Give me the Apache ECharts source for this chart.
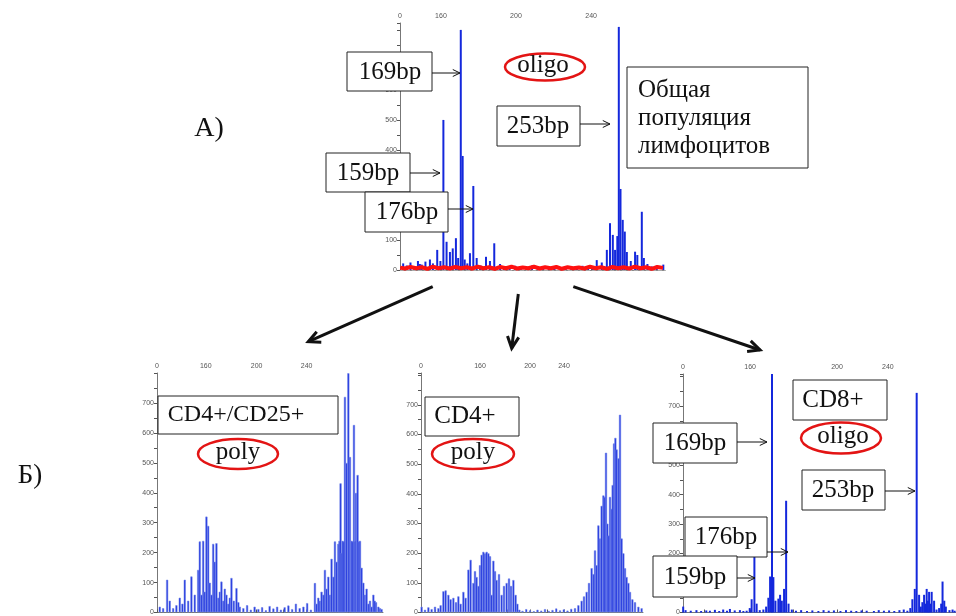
<!DOCTYPE html>
<html>
<head>
<meta charset="utf-8">
<script src="https://cdn.jsdelivr.net/npm/echarts@6/dist/echarts.min.js"></script>
<style>
  html, body { margin: 0; background: #fff; }
  #chart { width: 956px; height: 616px; }
</style>
</head>
<body>
<div id="chart"></div>
<script>
// tick texts on the top axes (the axes are not linear in the original)
const tickText = ['0', '160', '200', '240'];

// axis ranges, in bp
const rangeA = [136.4, 278.1], rangeB1 = [121, 301.6], rangeB2 = [112.8, 290.4], rangeB3 = [117.5, 275.8];
const yMax = [823, 800, 807, 809];

const labelPosA = [136.4, 158.3, 198.4, 238.6];
const tickPosA = [136.4, 145.3, 158.7, 178.6, 198.3, 218.2, 238.6, 259.4];
const labelPosB1 = [121, 160, 200.6, 240.6];
const tickPosB1 = [121, 136.6, 160, 180.6, 200.6, 221.9, 240.6, 273.9];
const labelPosB2 = [112.8, 160, 200, 227.2];
const tickPosB2 = [112.8, 124, 160, 181.4, 200, 213.4, 227.2, 262.4];
const labelPosB3 = [117.5, 156.4, 206.8, 236.3];
const tickPosB3 = [117.5, 129.6, 156.4, 168.4, 181.4, 206.8, 221.4, 256.3];

// А) общая популяция: [bp, intensity]
const peaksA = [[138.1,22],[140,15],[142,25],[144,12],[146,30],[147,20],[148,18],[150,28],[152.4,35],[154,22],
  [156.3,67],[158,30],[159.6,500],[161.3,94],[163.1,60],[164.6,72],[166.3,106],[167.5,40],[168.9,800],[169.9,380],
  [171,35],[172.4,22],[173.8,56],[175.6,280],[177.4,40],[179.5,15],[182.4,44],[184.5,30],[186.8,89],[189.9,20],
  [192,12],[195,8],[198,14],[201,6],[204,10],[207,15],[210,7],[213,11],[216,9],[219,13],[222,6],[225,12],
  [228,8],[231,10],[234,14],[237,9],[239.5,12],
  [241.6,33],[244.3,25],[247,67],[248.7,156],[250.2,117],[251.4,67],[252.6,113],[253.4,810],[254.3,270],
  [255.5,167],[256.6,128],[257.7,60],[259.8,30],[262.1,61],[263.3,50],[265.7,194],[266.8,40],[268.7,20],
  [271,12],[273.7,15],[277.2,18]];
const controlA = [[136.5,8],[139,5],[142,10],[145,6],[148,9],[151,4],[154,11],[157,6],[160,9],[163,5],
  [166,10],[169,6],[172,9],[175,5],[178,11],[181,6],[184,9],[187,4],[190,10],[193,6],[196,11],[199,5],
  [202,8],[205,6],[208,11],[211,5],[214,9],[217,6],[220,10],[223,4],[226,9],[229,6],[232,8],[235,5],
  [238,11],[241,6],[244,9],[247,4],[250,10],[253,6],[256,9],[259,5],[262,11],[265,6],[268,9],[271,4],
  [274,10],[277,7]];

// Б) CD4+/CD25+
const peaksB1 = [[123.2,20],[125.9,15],[129.1,110],[131.2,40],[133.9,15],[136.5,25],[139.2,50],[141.3,30],
  [143.2,110],[145.9,40],[148.5,121],[151.2,60],[153.9,143],[155.2,238],[156.5,60],[157.9,240],[159.2,70],
  [160.5,321],[161.9,290],[163.2,100],[164.5,60],[165.9,230],[167.2,170],[168.5,232],[169.9,50],[171.2,70],
  [172.5,104],[173.9,40],[175.2,80],[176.5,60],[177.9,30],[179.2,50],[180.5,116],[182.4,40],[184.5,82],
  [186,35],[187.2,20],
  [190,15],[193,25],[196,10],[199,20],[202,12],[205,18],[208,8],[211,22],[214,14],[217,20],[220,10],
  [223,18],[226,24],[229,12],[232,30],[235,15],[238,20],[241,32],[244,10],
  [247.2,99],[248.6,30],[249.9,50],[251.2,40],[252.5,70],[253.9,60],[255.2,143],[256.5,80],[257.9,120],
  [259.2,60],[260.5,180],[261.9,120],[263.2,238],[264.5,170],[265.9,230],[266.8,240],[267.7,432],[268.5,200],
  [269.3,240],[270.2,238],[271.2,721],[272.5,500],[273.9,800],[275.2,520],[276.5,240],[277.4,238],[278.4,627],
  [279.2,240],[280,400],[281.3,460],[282.3,238],[283.2,240],[284.5,150],[285.9,100],[287.2,60],[288.5,80],
  [289.9,30],[291.2,40],[292.5,20],[293.9,60],[295,40],[296,35],[297.9,20],[299.2,15],[300.5,12]];

// Б) CD4+
const peaksB2 = [[113.3,20],[116,10],[118.7,18],[121.3,12],[124,20],[126.7,15],[128.5,25],[130.7,72],[132.5,75],
  [134.7,60],[136.5,45],[138.7,50],[140.8,35],[142.7,55],[144.5,30],[146.7,70],[148.5,50],[150.7,145],[152.5,178],
  [154.7,100],[156,140],[157.3,120],[158.7,90],[160,160],[161.3,195],[162.7,205],[164,200],[165.3,205],[166.7,200],
  [168,190],[169.3,60],[170.7,175],[172,140],[173.3,110],[175.2,130],[177.3,60],[179.2,90],[181.3,100],[183.2,115],
  [184.8,90],[186.7,110],[188.5,60],[189.9,30],
  [191.5,10],[194,6],[197,12],[200,8],[203,5],[206,10],[209,7],[212,12],[215,6],[218,9],[221,14],[224,8],
  [227,11],[230,7],[233,13],
  [236,15],[238.7,25],[241.3,40],[243.2,55],[245.3,70],[247.2,100],[249.3,150],[250.7,130],[252,210],[253.3,160],
  [254.7,294],[256,250],[257.3,360],[258.7,395],[259.7,390],[260.8,539],[261.9,300],[262.9,260],[264,390],
  [265.1,350],[266.1,430],[267.2,570],[268.3,589],[269.3,550],[270.7,520],[272,667],[273.3,250],[274.7,200],
  [276,150],[277.3,120],[278.7,100],[280,70],[281.9,45],[284,35],[286.7,20],[289.3,15]];

// Б) CD8+
const peaksB3 = [[117.6,20],[119,8],[122,6],[125.3,8],[128,5],[131,7],[133.1,6],[136,9],[138.5,5],[140.8,10],
  [143,6],[144.7,12],[147.5,7],[150.5,8],[152.5,5],[154.4,6],[156.2,15],[157.3,45],[158.9,200],[160.2,30],
  [162,8],[164.1,10],[165.7,20],[167,50],[168,122],[169.1,810],[169.9,120],[171.1,40],[172.8,47],[173.8,60],
  [174.8,40],[176.1,80],[177.3,379],[178.7,30],[180.6,10],[183,6],[186,8],[189.4,5],[192.5,7],[196,5],[199,8],
  [202,6],[205,7],[208.8,5],[212,8],[215,6],[218,5],[221,7],[224,6],[228.2,5],[231,8],[234,6],[237,7],[240,5],
  [243,8],[245.5,10],[247.6,6],[249.3,15],[250.5,45],[251.9,80],[253,745],[254.4,60],[255.4,20],[256.3,35],
  [257.3,60],[258.1,30],[258.8,80],[259.5,40],[260.2,70],[261,30],[261.7,70],[263.1,40],[264.5,10],[266,15],
  [267.2,30],[268,105],[269,40],[269.9,20],[272,8],[273.8,10],[275,6]];

const BLUE = '#1428dc';
const SERIF = '"Liberation Serif", "Times New Roman", serif';

let myChart = echarts.init(document.getElementById('chart'));

function topX(gi, range, ticks, labs) {
  return {
    type: 'value', gridIndex: gi, position: 'top', min: range[0], max: range[1],
    splitLine: { show: false },
    axisLine: { lineStyle: { color: '#777', width: 1 } },
    axisTick: { customValues: ticks, length: 3, lineStyle: { color: '#555' } },
    axisLabel: {
      customValues: labs, fontSize: 7, color: '#555', margin: 3, fontFamily: 'Liberation Sans',
      formatter: v => tickText[labs.findIndex(p => Math.abs(p - v) < 0.01)] || ''
    }
  };
}
function leftY(gi) {
  return {
    type: 'value', gridIndex: gi, min: 0, max: yMax[gi], interval: 50,
    splitLine: { show: false },
    axisLine: { show: true, lineStyle: { color: '#777' } },
    axisTick: { show: true, length: 3, lineStyle: { color: '#555' } },
    axisLabel: {
      fontSize: 7, color: '#555', margin: 3, fontFamily: 'Liberation Sans',
      formatter: v => (v % 100 === 0 && v <= 700) ? v : ''
    }
  };
}
function spikes(idx, data, w, halo) {
  return {
    type: 'bar', xAxisIndex: idx, yAxisIndex: idx, data: data, barWidth: w, silent: true,
    itemStyle: halo ? { color: BLUE, borderColor: 'rgba(120,140,235,0.6)', borderWidth: 1 } : { color: BLUE }
  };
}

// graphic helpers
function box(x, y, w, h) {
  return { type: 'rect', z: 100, shape: { x: x, y: y, width: w, height: h },
    style: { fill: '#fff', stroke: '#222', lineWidth: 1 } };
}
function txt(s, x, y, size, align) {
  return { type: 'text', z: 101, x: x, y: y,
    style: { text: s, font: size + 'px ' + SERIF, fill: '#111', align: align || 'center', verticalAlign: 'middle' } };
}
function ring(cx, cy, rx, ry) {
  return { type: 'ellipse', z: 100, shape: { cx: cx, cy: cy, rx: rx, ry: ry },
    style: { fill: 'none', stroke: '#e31414', lineWidth: 2.5 } };
}
function arrow(x1, y1, x2, y2, lw, hl) {
  const a = Math.atan2(y2 - y1, x2 - x1), s = 0.45;
  const p1 = [x2 - hl * Math.cos(a - s), y2 - hl * Math.sin(a - s)];
  const p2 = [x2 - hl * Math.cos(a + s), y2 - hl * Math.sin(a + s)];
  return [
    { type: 'line', z: 100, shape: { x1: x1, y1: y1, x2: x2, y2: y2 }, style: { stroke: '#111', lineWidth: lw } },
    { type: 'polyline', z: 100, shape: { points: [p1, [x2, y2], p2] }, style: { stroke: '#111', lineWidth: lw, fill: 'none' } }
  ];
}

const graphics = [].concat(
  // А)
  [txt('А)', 209, 129, 28)],
  [box(347, 52, 85, 39), txt('169bp', 390, 72, 25)], arrow(432, 73, 460, 73, 1, 8),
  [ring(545, 67, 40, 13.5), txt('oligo', 543, 65, 25)],
  [box(497, 106, 83, 40), txt('253bp', 538, 126, 25)], arrow(580, 124, 610, 124, 1, 8),
  [box(627, 67, 181, 101), txt('Общая', 638, 90, 25, 'left'), txt('популяция', 638, 118, 25, 'left'),
   txt('лимфоцитов', 638, 146, 25, 'left')],
  [box(326, 153, 84, 39), txt('159bp', 368, 173, 25)], arrow(410, 173, 440, 173, 1, 8),
  [box(365, 192, 83, 40), txt('176bp', 407, 212, 25)], arrow(448, 209, 473, 209, 1, 8),
  // arrows to the subsets
  arrow(432.7, 286.7, 308.3, 341.7, 3, 13),
  arrow(518.3, 294, 511.7, 348.3, 3, 13),
  arrow(573.3, 286.7, 760, 350, 3, 13),
  // Б)
  [txt('Б)', 30, 476, 27)],
  [box(158, 396, 180, 38), txt('CD4+/CD25+', 236, 415, 24)],
  [ring(238, 454, 40, 15), txt('poly', 238, 452, 25)],
  [box(425, 397, 94, 39), txt('CD4+', 465, 416, 25)],
  [ring(473, 454, 41, 15), txt('poly', 473, 452, 25)],
  [box(793, 380, 94, 40), txt('CD8+', 833, 400, 25)],
  [ring(841, 438, 40, 15.5), txt('oligo', 843, 436, 25)],
  [box(653, 423, 84, 40), txt('169bp', 695, 443, 25)], arrow(737, 442, 767, 442, 1, 8),
  [box(802, 470, 83, 40), txt('253bp', 843, 490, 25)], arrow(885, 491, 915, 491, 1, 8),
  [box(685, 517, 82, 40), txt('176bp', 726, 537, 25)], arrow(767, 552, 788, 552, 1, 8),
  [box(653, 556, 84, 41), txt('159bp', 695, 577, 25)], arrow(737, 578, 755, 578, 1, 8)
);

myChart.setOption({
  animation: false,
  backgroundColor: '#fff',
  grid: [
    { left: 400, top: 23, width: 265, height: 247 },
    { left: 157, top: 373, width: 226, height: 240 },
    { left: 421, top: 373, width: 222, height: 242 },
    { left: 683, top: 374, width: 273, height: 243 }
  ],
  xAxis: [
    topX(0, rangeA, tickPosA, labelPosA),
    topX(1, rangeB1, tickPosB1, labelPosB1),
    topX(2, rangeB2, tickPosB2, labelPosB2),
    topX(3, rangeB3, tickPosB3, labelPosB3),
    { type: 'value', gridIndex: 0, position: 'bottom', min: rangeA[0], max: rangeA[1],
      splitLine: { show: false }, axisTick: { show: false }, axisLabel: { show: false },
      axisLine: { lineStyle: { color: '#aaa', type: 'dashed' } } }
  ],
  yAxis: [leftY(0), leftY(1), leftY(2), leftY(3)],
  series: [
    spikes(0, peaksA, 2, false),
    { type: 'line', xAxisIndex: 0, yAxisIndex: 0, data: controlA, showSymbol: false, silent: true, z: 3,
      lineStyle: { color: '#ff1010', width: 4 } },
    spikes(1, peaksB1, 2.5, true),
    spikes(2, peaksB2, 2.5, true),
    spikes(3, peaksB3, 2, false)
  ],
  graphic: graphics
});
</script>
</body>
</html>
